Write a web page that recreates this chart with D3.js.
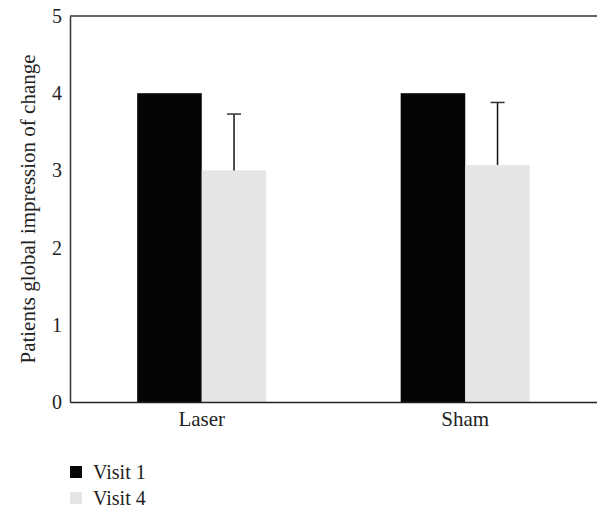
<!DOCTYPE html>
<html>
<head>
<meta charset="utf-8">
<script src="https://cdn.jsdelivr.net/npm/d3@7"></script>
<style>
  body { margin: 0; background: #fff; }
</style>
</head>
<body>
<svg width="597" height="510"></svg>
<script>
const svg = d3.select("svg");
const FONT = "'Liberation Serif', 'DejaVu Serif', serif";

const groups = ["Laser", "Sham"];
const series = ["Visit 1", "Visit 4"];
const visit1 = [4, 4];
const visit4 = [3.0, 3.07];
const visit4Err = [3.73, 3.88]; // top of error bar
const yTicks = [0, 1, 2, 3, 4, 5];
const colors = ["#050505", "#e6e6e6"];

const margin = {left: 70, right: 0, top: 16, bottom: 108};
const width = 597, height = 510;

const x0 = d3.scaleBand()
  .domain(groups)
  .range([margin.left, width - margin.right])
  .padding(0);

const x1 = d3.scaleBand()
  .domain(series)
  .range([0, x0.bandwidth()])
  .paddingInner(0)
  .paddingOuter(1.04);

const y = d3.scaleLinear()
  .domain([0, 5])
  .range([height - margin.bottom, margin.top]);

const color = d3.scaleOrdinal().domain(series).range(colors);

// bars
const rows = groups.map((g, i) => ({
  group: g,
  values: [
    {key: series[0], value: visit1[i]},
    {key: series[1], value: visit4[i], err: visit4Err[i]}
  ]
}));

const g = svg.append("g")
  .selectAll("g")
  .data(rows)
  .enter()
  .append("g")
  .attr("transform", d => `translate(${x0(d.group)},0)`);

g.selectAll("rect")
  .data(d => d.values)
  .enter()
  .append("rect")
  .attr("x", d => x1(d.key))
  .attr("y", d => y(d.value))
  .attr("width", x1.bandwidth())
  .attr("height", d => y(0) - y(d.value))
  .attr("fill", d => color(d.key));

// error bars (upper only)
const errs = g.selectAll("g.err")
  .data(d => d.values.filter(v => v.err != null))
  .enter()
  .append("g")
  .attr("class", "err");

errs.append("line")
  .attr("x1", d => x1(d.key) + x1.bandwidth() / 2)
  .attr("x2", d => x1(d.key) + x1.bandwidth() / 2)
  .attr("y1", d => y(d.value))
  .attr("y2", d => y(d.err))
  .attr("stroke", "#111")
  .attr("stroke-width", 1.5);

errs.append("line")
  .attr("x1", d => x1(d.key) + x1.bandwidth() / 2 - 7)
  .attr("x2", d => x1(d.key) + x1.bandwidth() / 2 + 7)
  .attr("y1", d => y(d.err))
  .attr("y2", d => y(d.err))
  .attr("stroke", "#333")
  .attr("stroke-width", 1.5);

// axes
const yAxis = svg.append("g")
  .attr("transform", `translate(${margin.left},0)`)
  .call(d3.axisLeft(y).tickValues(yTicks).tickSize(0).tickPadding(8).tickFormat(d3.format("d")));
yAxis.attr("font-family", null);
yAxis.select(".domain").attr("stroke", "#333").attr("stroke-width", 1.5);
yAxis.selectAll("text")
  .style("font-family", FONT)
  .style("font-size", "20px")
  .attr("fill", "#222");

const xAxis = svg.append("g")
  .attr("transform", `translate(0,${y(0)})`)
  .call(d3.axisBottom(x0).tickSize(0).tickPadding(9));
xAxis.attr("font-family", null);
xAxis.select(".domain").attr("stroke", "#222").attr("stroke-width", 1.5);
xAxis.selectAll("text")
  .style("font-family", FONT)
  .style("font-size", "21px")
  .attr("fill", "#222");

// top border
svg.append("line")
  .attr("x1", margin.left)
  .attr("x2", width)
  .attr("y1", y(5))
  .attr("y2", y(5))
  .attr("stroke", "#333")
  .attr("stroke-width", 1.5);

// y label
svg.append("text")
  .attr("transform", `translate(35,${(y(0) + y(5)) / 2}) rotate(-90)`)
  .attr("text-anchor", "middle")
  .style("font-family", FONT)
  .style("font-size", "21px")
  .attr("fill", "#222")
  .text("Patients global impression of change");

// legend
const legend = svg.append("g")
  .selectAll("g")
  .data(series)
  .enter()
  .append("g")
  .attr("transform", (d, i) => `translate(70, ${466 + i * 26})`);

legend.append("rect")
  .attr("width", 12)
  .attr("height", 12)
  .attr("fill", d => color(d));

legend.append("text")
  .attr("x", 23)
  .attr("y", 12.5)
  .style("font-family", FONT)
  .style("font-size", "20px")
  .attr("fill", "#222")
  .text(d => d);
</script>
</body>
</html>
